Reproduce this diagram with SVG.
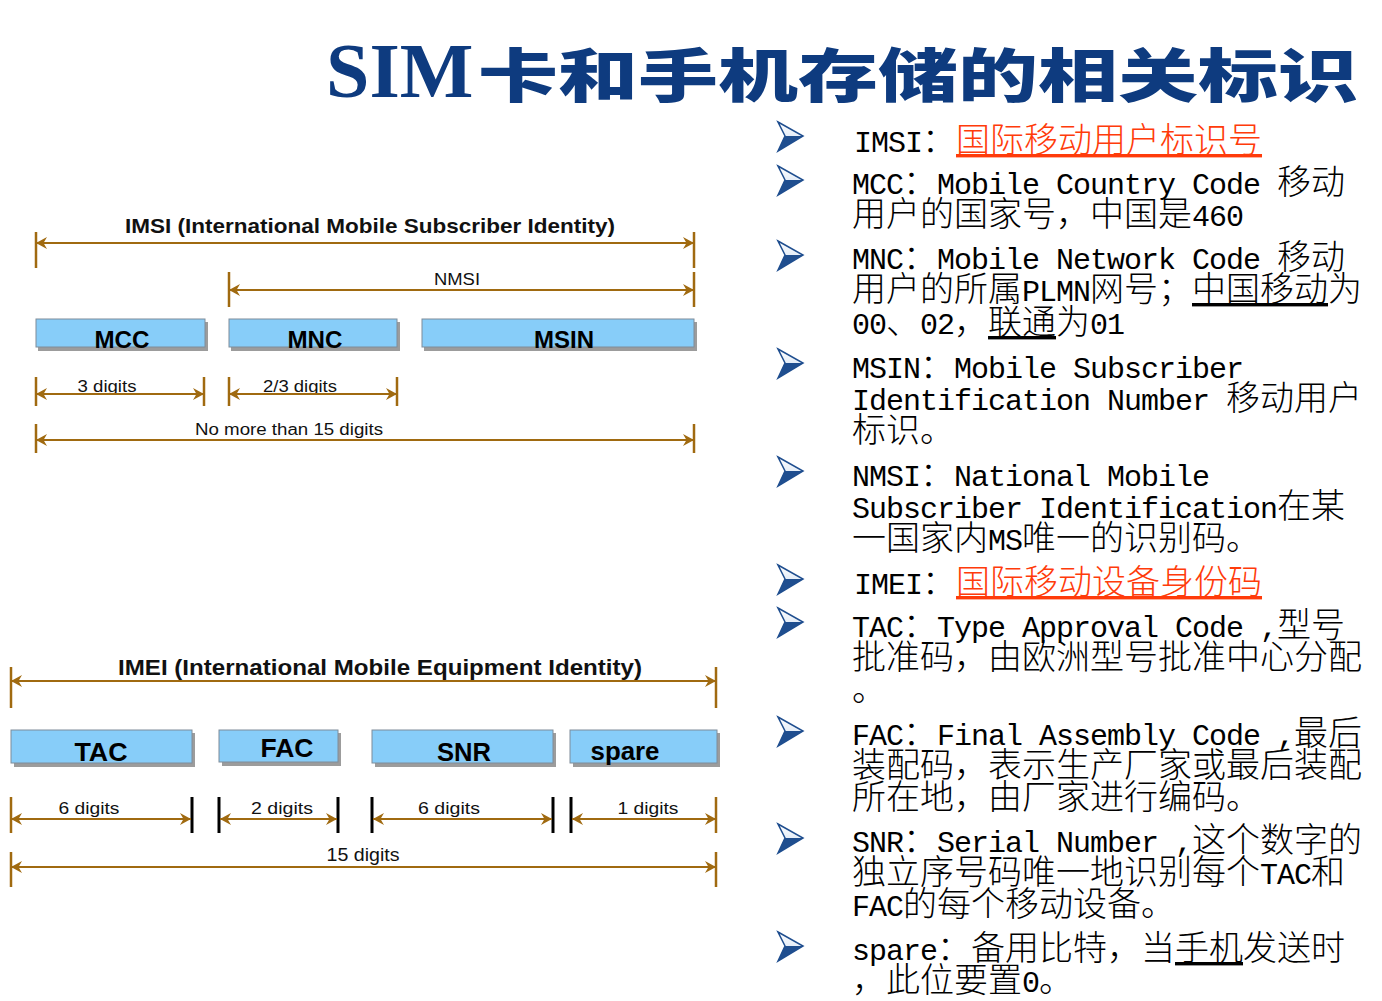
<svg xmlns="http://www.w3.org/2000/svg" width="1382" height="1001" viewBox="0 0 1382 1001">
  <style>
    .title-lat { font-family: "Liberation Serif", serif; font-weight: bold; font-size: 78px; fill: #0E3B7F; }
    .title-cjk { font-family: "Noto Sans CJK SC", sans-serif; font-weight: 900; font-size: 58px; fill: #0E3B7F; }
    .dim { stroke: #A06A10; stroke-width: 2; fill: none; }
    .tick { stroke: #A06A10; stroke-width: 2.5; }
    .tick-k { stroke: #000; stroke-width: 3; }
    .box { fill: #87CDF9; stroke: #7F8C99; stroke-width: 1; }
    .shadow { fill: #9C9C9C; }
    .hdr { font-family: "Liberation Sans", Arial, sans-serif; font-weight: bold; fill: #111; text-anchor: middle; }
    .lbl { font-family: "Liberation Sans", Arial, sans-serif; font-weight: bold; fill: #000; text-anchor: middle; }
    .cap { font-family: "Liberation Sans", Arial, sans-serif; fill: #111; text-anchor: middle; }
    .note { fill: #000; white-space: pre; }
    .m { font-family: "Liberation Mono", "Courier New", monospace; font-size: 30px; letter-spacing: -1px; }
    .c { font-family: "Noto Sans CJK SC", sans-serif; font-size: 34px; font-weight: 300; }
    .red { fill: #FF3B0A; text-decoration: underline; }
    .ul { text-decoration: underline; }
  </style>
  <defs>
    <marker id="ah" viewBox="-12 -7 13 14" refX="0" refY="0" markerWidth="13" markerHeight="14" markerUnits="userSpaceOnUse" orient="auto-start-reverse">
      <path d="M-11,-6 L0,0 L-11,6 L-7.5,0 Z" fill="#A06A10"/>
    </marker>
    <linearGradient id="bulGrad" x1="0" y1="0" x2="0" y2="1">
      <stop offset="0" stop-color="#FFFFFF"/>
      <stop offset="0.45" stop-color="#E6EEF8"/>
    </linearGradient>
    <g id="bullet">
      <path d="M0,0 L25,14 L0,29 L7,14 Z" fill="url(#bulGrad)" stroke="#1F4E8F" stroke-width="1.5" stroke-linejoin="miter"/>
      <path d="M7,14 L25,14 L0,29 Z" fill="#1F4E8F"/>
    </g>
  </defs>

  <rect width="1382" height="1001" fill="#FFFFFF"/>

  <!-- heading -->
  <text y="97"><tspan class="title-lat" x="326">SIM</tspan><tspan class="title-cjk" x="478" textLength="880" lengthAdjust="spacingAndGlyphs">卡和手机存储的相关标识</tspan></text>

  <!-- IMSI structure -->
  <text class="hdr" x="370" y="233" font-size="21" textLength="490" lengthAdjust="spacingAndGlyphs">IMSI (International Mobile Subscriber Identity)</text>

  <g id="imsi-mcc">
    <rect class="shadow" x="38" y="322" width="170" height="29"/>
    <rect class="box" x="36" y="319" width="169" height="28"/>
    <text class="lbl" x="122" y="348" font-size="23" textLength="55" lengthAdjust="spacingAndGlyphs">MCC</text>
  </g>
  <g id="imsi-mnc">
    <rect class="shadow" x="231" y="322" width="169" height="29"/>
    <rect class="box" x="229" y="319" width="168" height="28"/>
    <text class="lbl" x="315" y="348" font-size="23" textLength="55" lengthAdjust="spacingAndGlyphs">MNC</text>
  </g>
  <g id="imsi-msin">
    <rect class="shadow" x="424" y="322" width="273" height="29"/>
    <rect class="box" x="422" y="319" width="272" height="28"/>
    <text class="lbl" x="564" y="348" font-size="23" textLength="60" lengthAdjust="spacingAndGlyphs">MSIN</text>
  </g>

  <g id="imsi-captions">
    <text class="cap" x="457" y="285" font-size="16" textLength="46" lengthAdjust="spacingAndGlyphs">NMSI</text>
    <text class="cap" x="107" y="392" font-size="16" textLength="59" lengthAdjust="spacingAndGlyphs">3 digits</text>
    <text class="cap" x="300" y="392" font-size="16" textLength="74" lengthAdjust="spacingAndGlyphs">2/3 digits</text>
    <text class="cap" x="289" y="435" font-size="16" textLength="188" lengthAdjust="spacingAndGlyphs">No more than 15 digits</text>
  </g>

  <!-- IMEI structure -->
  <text class="hdr" x="380" y="675" font-size="22" textLength="524" lengthAdjust="spacingAndGlyphs">IMEI (International Mobile Equipment Identity)</text>

  <g id="imei-tac">
    <rect class="shadow" x="14" y="733" width="181" height="34"/>
    <rect class="box" x="11" y="730" width="181" height="33"/>
    <text class="lbl" x="101" y="761" font-size="25" textLength="53" lengthAdjust="spacingAndGlyphs">TAC</text>
  </g>
  <g id="imei-fac">
    <rect class="shadow" x="222" y="733" width="119" height="33"/>
    <rect class="box" x="219" y="730" width="119" height="32"/>
    <text class="lbl" x="287" y="757" font-size="25" textLength="53" lengthAdjust="spacingAndGlyphs">FAC</text>
  </g>
  <g id="imei-snr">
    <rect class="shadow" x="375" y="733" width="181" height="34"/>
    <rect class="box" x="372" y="730" width="181" height="33"/>
    <text class="lbl" x="464" y="761" font-size="25" textLength="54" lengthAdjust="spacingAndGlyphs">SNR</text>
  </g>
  <g id="imei-spare">
    <rect class="shadow" x="573" y="733" width="147" height="34"/>
    <rect class="box" x="570" y="730" width="147" height="33"/>
    <text class="lbl" x="625" y="760" font-size="25" textLength="69" lengthAdjust="spacingAndGlyphs">spare</text>
  </g>

  <g id="imei-captions">
    <text class="cap" x="89" y="814" font-size="17" textLength="61" lengthAdjust="spacingAndGlyphs">6 digits</text>
    <text class="cap" x="282" y="814" font-size="17" textLength="62" lengthAdjust="spacingAndGlyphs">2 digits</text>
    <text class="cap" x="449" y="814" font-size="17" textLength="62" lengthAdjust="spacingAndGlyphs">6 digits</text>
    <text class="cap" x="648" y="814" font-size="17" textLength="61" lengthAdjust="spacingAndGlyphs">1 digits</text>
    <text class="cap" x="363" y="861" font-size="18" textLength="73" lengthAdjust="spacingAndGlyphs">15 digits</text>
  </g>

  <!-- dimension lines -->
  <g id="connectors">
    <!-- IMSI -->
    <line class="tick" x1="36" y1="232" x2="36" y2="268"/>
    <line class="tick" x1="694" y1="232" x2="694" y2="268"/>
    <line class="dim" x1="36" y1="243" x2="694" y2="243" marker-start="url(#ah)" marker-end="url(#ah)"/>

    <line class="tick" x1="229" y1="272" x2="229" y2="307"/>
    <line class="tick" x1="694" y1="272" x2="694" y2="307"/>
    <line class="dim" x1="229" y1="290" x2="694" y2="290" marker-start="url(#ah)" marker-end="url(#ah)"/>

    <line class="tick" x1="36" y1="377" x2="36" y2="406"/>
    <line class="tick" x1="204" y1="377" x2="204" y2="406"/>
    <line class="dim" x1="36" y1="394" x2="204" y2="394" marker-start="url(#ah)" marker-end="url(#ah)"/>

    <line class="tick" x1="229" y1="377" x2="229" y2="406"/>
    <line class="tick" x1="397" y1="377" x2="397" y2="406"/>
    <line class="dim" x1="229" y1="394" x2="397" y2="394" marker-start="url(#ah)" marker-end="url(#ah)"/>

    <line class="tick" x1="36" y1="424" x2="36" y2="453"/>
    <line class="tick" x1="694" y1="424" x2="694" y2="453"/>
    <line class="dim" x1="36" y1="440" x2="694" y2="440" marker-start="url(#ah)" marker-end="url(#ah)"/>

    <!-- IMEI -->
    <line class="tick" x1="11" y1="667" x2="11" y2="708"/>
    <line class="tick" x1="716" y1="667" x2="716" y2="708"/>
    <line class="dim" x1="11" y1="681" x2="716" y2="681" marker-start="url(#ah)" marker-end="url(#ah)"/>

    <line class="tick" x1="11" y1="797" x2="11" y2="833"/>
    <line class="tick-k" x1="192" y1="797" x2="192" y2="833"/>
    <line class="dim" x1="11" y1="819" x2="191" y2="819" marker-start="url(#ah)" marker-end="url(#ah)"/>

    <line class="tick-k" x1="219" y1="797" x2="219" y2="833"/>
    <line class="tick-k" x1="338" y1="797" x2="338" y2="833"/>
    <line class="dim" x1="220" y1="819" x2="337" y2="819" marker-start="url(#ah)" marker-end="url(#ah)"/>

    <line class="tick-k" x1="372" y1="797" x2="372" y2="833"/>
    <line class="tick-k" x1="553" y1="797" x2="553" y2="833"/>
    <line class="dim" x1="373" y1="819" x2="552" y2="819" marker-start="url(#ah)" marker-end="url(#ah)"/>

    <line class="tick-k" x1="571" y1="797" x2="571" y2="833"/>
    <line class="tick" x1="716" y1="797" x2="716" y2="833"/>
    <line class="dim" x1="572" y1="819" x2="716" y2="819" marker-start="url(#ah)" marker-end="url(#ah)"/>

    <line class="tick" x1="11" y1="852" x2="11" y2="887"/>
    <line class="tick" x1="716" y1="852" x2="716" y2="887"/>
    <line class="dim" x1="11" y1="867" x2="716" y2="867" marker-start="url(#ah)" marker-end="url(#ah)"/>
  </g>

  <!-- bullet glyphs -->
  <g id="bullets">
    <use href="#bullet" x="778" y="122"/>
    <use href="#bullet" x="778" y="166"/>
    <use href="#bullet" x="778" y="241"/>
    <use href="#bullet" x="778" y="349"/>
    <use href="#bullet" x="778" y="457"/>
    <use href="#bullet" x="778" y="565"/>
    <use href="#bullet" x="778" y="608"/>
    <use href="#bullet" x="778" y="717"/>
    <use href="#bullet" x="778" y="824"/>
    <use href="#bullet" x="778" y="932"/>
  </g>

  <!-- explanatory notes: Latin runs on a 17px half-width grid, CJK on 34px -->
  <g id="notes">
    <text class="note" x="854" y="152"><tspan class="m">IMSI</tspan><tspan class="c">：</tspan><tspan class="c red">国际移动用户标识号</tspan></text>
    <text class="note" x="852" y="194"><tspan class="m">MCC</tspan><tspan class="c">：</tspan><tspan class="m">Mobile Country Code </tspan><tspan class="c">移动</tspan></text>
    <text class="note" x="852" y="226"><tspan class="c">用户的国家号，中国是</tspan><tspan class="m">460</tspan></text>
    <text class="note" x="852" y="269"><tspan class="m">MNC</tspan><tspan class="c">：</tspan><tspan class="m">Mobile Network Code </tspan><tspan class="c">移动</tspan></text>
    <text class="note" x="852" y="301"><tspan class="c">用户的所属</tspan><tspan class="m">PLMN</tspan><tspan class="c">网号；</tspan><tspan class="c ul">中国移动</tspan><tspan class="c">为</tspan></text>
    <text class="note" x="852" y="334"><tspan class="m">00</tspan><tspan class="c">、</tspan><tspan class="m">02</tspan><tspan class="c">，</tspan><tspan class="c ul">联通</tspan><tspan class="c">为</tspan><tspan class="m">01</tspan></text>
    <text class="note" x="852" y="378"><tspan class="m">MSIN</tspan><tspan class="c">：</tspan><tspan class="m">Mobile Subscriber</tspan></text>
    <text class="note" x="852" y="410"><tspan class="m">Identification Number </tspan><tspan class="c">移动用户</tspan></text>
    <text class="note" x="852" y="442"><tspan class="c">标识。</tspan></text>
    <text class="note" x="852" y="486"><tspan class="m">NMSI</tspan><tspan class="c">：</tspan><tspan class="m">National Mobile</tspan></text>
    <text class="note" x="852" y="518"><tspan class="m">Subscriber Identification</tspan><tspan class="c">在某</tspan></text>
    <text class="note" x="852" y="550"><tspan class="c">一国家内</tspan><tspan class="m">MS</tspan><tspan class="c">唯一的识别码。</tspan></text>
    <text class="note" x="854" y="594"><tspan class="m">IMEI</tspan><tspan class="c">：</tspan><tspan class="c red">国际移动设备身份码</tspan></text>
    <text class="note" x="852" y="637"><tspan class="m">TAC</tspan><tspan class="c">：</tspan><tspan class="m">Type Approval Code ,</tspan><tspan class="c">型号</tspan></text>
    <text class="note" x="852" y="669"><tspan class="c">批准码，由欧洲型号批准中心分配</tspan></text>
    <text class="note" x="852" y="701"><tspan class="c">。</tspan></text>
    <text class="note" x="852" y="745"><tspan class="m">FAC</tspan><tspan class="c">：</tspan><tspan class="m">Final Assembly Code ,</tspan><tspan class="c">最后</tspan></text>
    <text class="note" x="852" y="777"><tspan class="c">装配码，表示生产厂家或最后装配</tspan></text>
    <text class="note" x="852" y="809"><tspan class="c">所在地，由厂家进行编码。</tspan></text>
    <text class="note" x="852" y="852"><tspan class="m">SNR</tspan><tspan class="c">：</tspan><tspan class="m">Serial Number ,</tspan><tspan class="c">这个数字的</tspan></text>
    <text class="note" x="852" y="884"><tspan class="c">独立序号码唯一地识别每个</tspan><tspan class="m">TAC</tspan><tspan class="c">和</tspan></text>
    <text class="note" x="852" y="916"><tspan class="m">FAC</tspan><tspan class="c">的每个移动设备。</tspan></text>
    <text class="note" x="852" y="960"><tspan class="m">spare</tspan><tspan class="c">：备用比特，当</tspan><tspan class="c ul">手机</tspan><tspan class="c">发送时</tspan></text>
    <text class="note" x="852" y="992"><tspan class="c">，此位要置</tspan><tspan class="m">0</tspan><tspan class="c">。</tspan></text>
  </g>
</svg>
